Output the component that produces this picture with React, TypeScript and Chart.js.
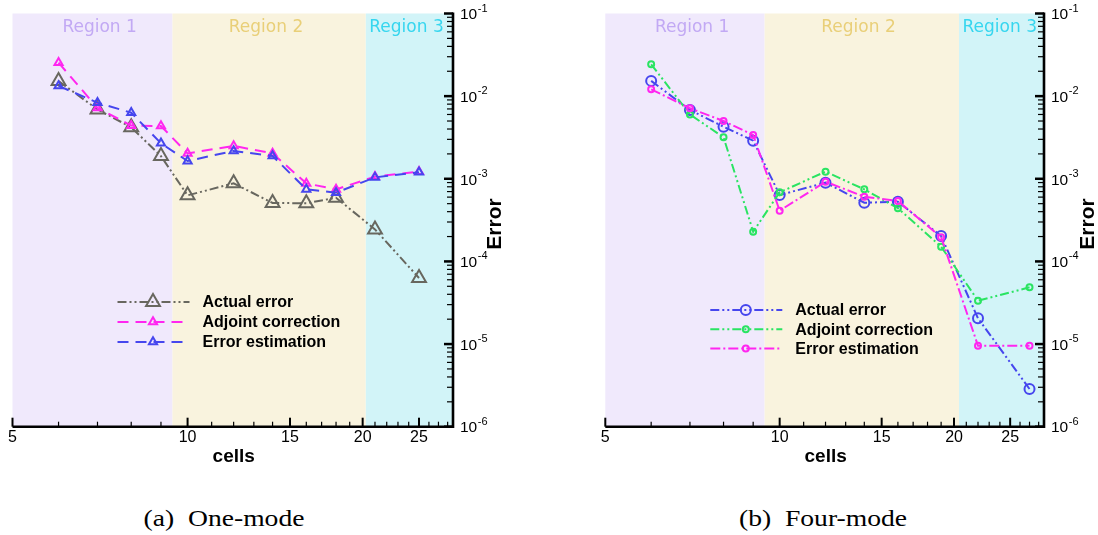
import React, { useEffect, useRef } from 'react';
import { Chart, registerables } from 'chart.js';
Chart.register(...registerables);

// ---------------- data ----------------
const cellsOneMode = [6, 7, 8, 9, 10, 12, 14, 16, 18, 21, 25];
const actualErrorOneMode = [0.0152, 0.0069, 0.0042, 0.00188, 0.00063, 0.00088, 0.00051, 0.000505, 0.00059, 0.000244, 0.000063];
const adjointCorrectionOneMode = [0.0254, 0.0072, 0.0044, 0.00435, 0.00203, 0.0025, 0.00203, 0.00088, 0.000745, 0.00106, 0.00122];
const errorEstimationOneMode = [0.0133, 0.00834, 0.0063, 0.00269, 0.00164, 0.00217, 0.00189, 0.000745, 0.00068, 0.00104, 0.0012];

const cellsFourMode = [6, 7, 8, 9, 10, 12, 14, 16, 19, 22, 27];
const actualErrorFourMode = [0.0153, 0.0068, 0.00427, 0.00289, 0.000637, 0.000897, 0.000513, 0.000528, 0.000203, 0.0000205, 0.00000286];
const adjointCorrectionFourMode = [0.0243, 0.006, 0.00318, 0.000229, 0.000686, 0.00122, 0.000745, 0.00044, 0.000151, 0.0000335, 0.0000486];
const errorEstimationFourMode = [0.0121, 0.00713, 0.005, 0.00339, 0.000411, 0.000922, 0.000607, 0.000538, 0.000196, 0.00000955, 0.00000955];

const seriesLabels = ['Actual error', 'Adjoint correction', 'Error estimation'];
const regionLabels = ['Region 1', 'Region 2', 'Region 3'];
const regionEdgesOneMode = [9.42, 20.25];
const regionEdgesFourMode = [9.42, 20.4];
const regionLabelXOneMode = [7.06, 13.64, 23.79];
const regionLabelXFourMode = [7.06, 13.68, 23.99];

const xTickValues = [5, 10, 15, 20, 25];
const xTickLabels = ['5', '10', '15', '20', '25'];
const yTickExponents = [-6, -5, -4, -3, -2, -1];
const xAxisTitle = 'cells';
const yAxisTitle = 'Error';
const captions = ['(a)\u00a0\u00a0One-mode', '(b)\u00a0\u00a0Four-mode'];

const X_MIN = 5;
const X_MAX = 28.6;
const Y_MIN = 1e-6;
const Y_MAX = 1e-1;

// ---------------- styles ----------------
const regionFills = ['#f0e9fc', '#f9f3de', '#d2f4f8'];
const regionTextColors = ['#c2a9f4', '#e9cf78', '#36d6ef'];
const GRAY = '#68675f';
const MAGENTA = '#ff26f0';
const BLUE = '#4646ee';
const GREEN = '#2ae462';
const SANS = '"Liberation Sans", Arial, sans-serif';

const toPoints = (xs: number[], ys: number[]) => xs.map((x, i) => ({ x, y: ys[i] }));

function lineDataset(label: string, xs: number[], ys: number[], color: string, dash: number[], pointStyle: string, radius: number, order: number) {
  return {
    label,
    data: toPoints(xs, ys),
    borderColor: color,
    backgroundColor: 'transparent',
    borderWidth: 2,
    borderDash: dash,
    pointStyle,
    pointRadius: radius,
    pointBorderWidth: 2,
    pointBorderColor: color,
    pointBackgroundColor: 'transparent',
    tension: 0,
    fill: false,
    order,
  };
}

const DASH_DOT_DOT = [9, 3, 2, 3, 2, 3];
const DASH_DOT = [10, 3, 2, 3];
const DASHED = [11, 7];

const datasetsOneMode = [
  lineDataset(seriesLabels[0], cellsOneMode, actualErrorOneMode, GRAY, DASH_DOT_DOT, 'triangle', 8, 2),
  lineDataset(seriesLabels[1], cellsOneMode, adjointCorrectionOneMode, MAGENTA, DASHED, 'triangle', 4.7, 1),
  lineDataset(seriesLabels[2], cellsOneMode, errorEstimationOneMode, BLUE, DASHED, 'triangle', 4.7, 0),
];

const datasetsFourMode = [
  lineDataset(seriesLabels[0], cellsFourMode, actualErrorFourMode, BLUE, DASH_DOT_DOT, 'circle', 5, 2),
  lineDataset(seriesLabels[1], cellsFourMode, adjointCorrectionFourMode, GREEN, DASH_DOT_DOT, 'circle', 3, 1),
  lineDataset(seriesLabels[2], cellsFourMode, errorEstimationFourMode, MAGENTA, DASH_DOT, 'circle', 3, 0),
];

function drawMarker(ctx: CanvasRenderingContext2D, style: string, x: number, y: number, r: number) {
  ctx.beginPath();
  if (style === 'triangle') {
    let rad = 0;
    ctx.moveTo(x + Math.sin(rad) * r, y - Math.cos(rad) * r);
    rad += (2 * Math.PI) / 3;
    ctx.lineTo(x + Math.sin(rad) * r, y - Math.cos(rad) * r);
    rad += (2 * Math.PI) / 3;
    ctx.lineTo(x + Math.sin(rad) * r, y - Math.cos(rad) * r);
    ctx.closePath();
  } else {
    ctx.arc(x, y, r, 0, Math.PI * 2);
  }
  ctx.stroke();
}

const panelPlugin = {
  id: 'panel',
  beforeDatasetsDraw(chart: any, _args: any, opts: any) {
    const { ctx, chartArea: a, scales } = chart;
    const xs = scales.x;
    const edges = [a.left, xs.getPixelForValue(opts.edges[0]), xs.getPixelForValue(opts.edges[1]), a.right];
    ctx.save();
    for (let i = 0; i < 3; i++) {
      ctx.fillStyle = regionFills[i];
      ctx.fillRect(edges[i], a.top, edges[i + 1] - edges[i], a.bottom - a.top);
    }
    ctx.font = '17px "DejaVu Sans", sans-serif';
    ctx.textAlign = 'center';
    ctx.textBaseline = 'middle';
    for (let i = 0; i < 3; i++) {
      ctx.fillStyle = regionTextColors[i];
      ctx.fillText(regionLabels[i], xs.getPixelForValue(opts.labelX[i]), a.top + 14);
    }
    ctx.restore();
  },
  afterDatasetsDraw(chart: any, _args: any, opts: any) {
    const { ctx, chartArea: a, scales } = chart;
    const xs = scales.x;
    const ys = scales.y;
    ctx.save();
    ctx.strokeStyle = '#000';
    ctx.fillStyle = '#000';
    ctx.setLineDash([]);
    // x ticks
    for (let v = 5; v <= 28; v++) {
      const px = xs.getPixelForValue(v);
      const major = xTickValues.includes(v);
      ctx.lineWidth = major ? 2 : 1.2;
      ctx.beginPath();
      ctx.moveTo(px, a.bottom);
      ctx.lineTo(px, a.bottom - (major ? 9 : 5));
      ctx.stroke();
    }
    // y ticks
    for (let e = -6; e <= -1; e++) {
      for (let m = 1; m <= 9; m++) {
        if (e === -1 && m > 1) break;
        const py = ys.getPixelForValue(m * Math.pow(10, e));
        const major = m === 1;
        ctx.lineWidth = major ? 2.5 : 1.2;
        ctx.beginPath();
        ctx.moveTo(a.right, py);
        ctx.lineTo(a.right - (major ? 9 : 6), py);
        ctx.stroke();
      }
    }
    // axis lines
    ctx.lineWidth = 2.6;
    ctx.beginPath();
    ctx.moveTo(a.left, a.bottom);
    ctx.lineTo(a.right + 1.3, a.bottom);
    ctx.moveTo(a.right, a.bottom);
    ctx.lineTo(a.right, a.top - 1);
    ctx.stroke();
    // x tick labels
    ctx.font = '16px ' + SANS;
    ctx.textAlign = 'center';
    ctx.textBaseline = 'middle';
    xTickValues.forEach((v, i) => {
      ctx.fillText(xTickLabels[i], xs.getPixelForValue(v), a.bottom + 11);
    });
    // y tick labels
    yTickExponents.forEach((e) => {
      const py = ys.getPixelForValue(Math.pow(10, e));
      const tx = a.right + 7;
      ctx.textAlign = 'left';
      ctx.font = '15.5px ' + SANS;
      ctx.fillText('10', tx, py + 1.5);
      const w = ctx.measureText('10').width;
      ctx.font = '11px ' + SANS;
      ctx.fillText(String(e), tx + w + 0.5, py - 5);
    });
    // titles
    ctx.font = 'bold 19px ' + SANS;
    ctx.textAlign = 'center';
    ctx.fillText(xAxisTitle, (a.left + a.right) / 2 + 1, a.bottom + 30);
    ctx.save();
    ctx.translate(a.right + opts.yTitleOffset, 224);
    ctx.rotate(-Math.PI / 2);
    ctx.font = 'bold 21px ' + SANS;
    ctx.fillText(yAxisTitle, 0, 0);
    ctx.restore();
    // legend
    const lg = opts.legend;
    chart.data.datasets.forEach((ds: any, i: number) => {
      const y = lg.top + i * lg.gap;
      ctx.strokeStyle = ds.borderColor;
      ctx.lineWidth = 2;
      ctx.setLineDash(ds.borderDash);
      ctx.beginPath();
      ctx.moveTo(a.left + 105, y);
      ctx.lineTo(a.left + 177, y);
      ctx.stroke();
      ctx.setLineDash([]);
      drawMarker(ctx, ds.pointStyle, a.left + 140.5, y, ds.pointRadius);
      ctx.fillStyle = '#000';
      ctx.font = 'bold 16px ' + SANS;
      ctx.textAlign = 'left';
      ctx.fillText(ds.label, a.left + 190, y + 1);
    });
    ctx.restore();
  },
};

function Panel(props: { left: number; datasets: any[]; panelOpts: any; padding: any }) {
  const ref = useRef<HTMLCanvasElement>(null);
  useEffect(() => {
    const chart = new Chart(ref.current as HTMLCanvasElement, {
      type: 'line',
      data: { datasets: props.datasets },
      options: {
        animation: false,
        responsive: false,
        devicePixelRatio: 1,
        events: [],
        layout: { padding: props.padding },
        scales: {
          x: { type: 'logarithmic', min: X_MIN, max: X_MAX, display: false },
          y: { type: 'logarithmic', min: Y_MIN, max: Y_MAX, display: false },
        },
        plugins: {
          legend: { display: false },
          tooltip: { enabled: false },
          panel: props.panelOpts,
        },
      } as any,
      plugins: [panelPlugin as any],
    });
    return () => chart.destroy();
  }, []);
  return (
    <canvas
      ref={ref}
      width={549}
      height={480}
      style={{ position: 'absolute', left: props.left, top: 0, width: 549, height: 480 }}
    />
  );
}

export default function App() {
  const captionStyle = (cx: number): React.CSSProperties => ({
    position: 'absolute',
    left: cx,
    top: 518,
    transform: 'translate(-50%, -50%) scaleX(1.2)',
    fontFamily: '"Liberation Serif", "Times New Roman", serif',
    fontSize: 23,
    whiteSpace: 'nowrap',
    color: '#000',
    lineHeight: 1,
  });
  return (
    <div style={{ position: 'fixed', left: 0, top: 0, width: 1098, height: 535, background: '#fff', overflow: 'hidden' }}>
      <Panel
        left={0}
        datasets={datasetsOneMode}
        padding={{ left: 12.5, top: 13.5, right: 96, bottom: 53.3 }}
        panelOpts={{ edges: regionEdgesOneMode, labelX: regionLabelXOneMode, legend: { top: 302, gap: 20 }, yTitleOffset: 42 }}
      />
      <Panel
        left={549}
        datasets={datasetsFourMode}
        padding={{ left: 56.3, top: 13.5, right: 54, bottom: 53.3 }}
        panelOpts={{ edges: regionEdgesFourMode, labelX: regionLabelXFourMode, legend: { top: 310, gap: 19.2 }, yTitleOffset: 44 }}
      />
      <div style={captionStyle(224)}>{captions[0]}</div>
      <div style={captionStyle(822.5)}>{captions[1]}</div>
    </div>
  );
}
